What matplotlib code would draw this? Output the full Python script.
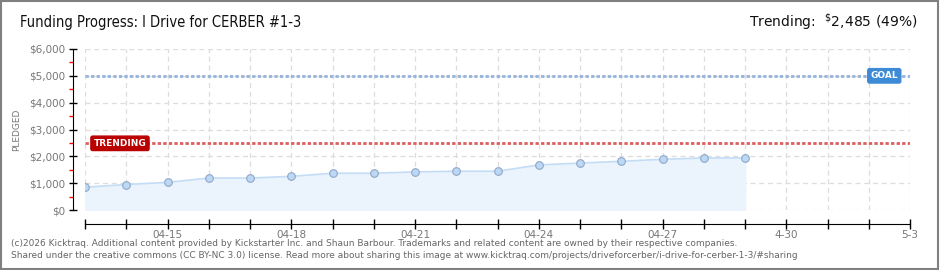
import matplotlib
matplotlib.use("Agg")
import matplotlib.pyplot as plt
from matplotlib.patches import Rectangle
import datetime as dt

dates = ["2026-04-13", "2026-04-14", "2026-04-15", "2026-04-16", "2026-04-17",
         "2026-04-18", "2026-04-19", "2026-04-20", "2026-04-21", "2026-04-22",
         "2026-04-23", "2026-04-24", "2026-04-25", "2026-04-26", "2026-04-27",
         "2026-04-28", "2026-04-29"]
pledged = [850, 950, 1030, 1190, 1190, 1255, 1370, 1370, 1420, 1445, 1445,
           1680, 1750, 1815, 1890, 1940, 1940]
goal = 5000
trending = 2485
start_date = "2026-04-13"
end_date = "2026-05-03"
xtick_labels = {"2026-04-15": "04-15", "2026-04-18": "04-18", "2026-04-21": "04-21",
                "2026-04-24": "04-24", "2026-04-27": "04-27", "2026-04-30": "4-30",
                "2026-05-03": "5-3"}
yticks = [0, 1000, 2000, 3000, 4000, 5000, 6000]
title = "Funding Progress: I Drive for CERBER #1-3"
trend_label = "Trending:  "
trend_value = "2,485 (49%)"
footer1 = "(c)2026 Kicktraq. Additional content provided by Kickstarter Inc. and Shaun Barbour. Trademarks and related content are owned by their respective companies."
footer2 = "Shared under the creative commons (CC BY-NC 3.0) license. Read more about sharing this image at www.kicktraq.com/projects/driveforcerber/i-drive-for-cerber-1-3/#sharing"

def d(s):
    return dt.datetime.strptime(s, "%Y-%m-%d")

x = [d(s) for s in dates]
x0, x1 = d(start_date), d(end_date)

fig = plt.figure(figsize=(9.4, 2.7), dpi=100)
fig.patch.set_facecolor("white")
fig.add_artist(Rectangle((0.001, 0.002), 0.997, 0.995, transform=fig.transFigure,
                         fill=False, edgecolor="#808080", linewidth=1.5))

ax = fig.add_axes([85/940, 1-210/270, 825/940, 161/270])
ax.set_xlim(x0, x1)
ax.set_ylim(0, 6000)

days = [x0 + dt.timedelta(days=i) for i in range((x1 - x0).days + 1)]
for dd in days:
    ax.axvline(dd, color="#dddddd", linestyle=(0, (4, 3)), linewidth=0.9, zorder=0)
for yv in yticks:
    ax.axhline(yv, color="#dddddd", linestyle=(0, (4, 3)), linewidth=0.9, zorder=0)

ax.fill_between(x, pledged, 0, color="#ebf3fc", zorder=1)
ax.plot(x, pledged, color="#c4ddf6", linewidth=1.2, zorder=2)
ax.plot(x, pledged, linestyle="none", marker="o", markersize=5.5,
        markerfacecolor="#bcd8f5", markeredgecolor="#8ea8c6", markeredgewidth=0.8, zorder=3)

ax.axhline(goal, color="#95b4dc", linestyle=(0, (1.2, 0.8)), linewidth=2.0, zorder=2)
ax.axhline(trending, color="#dc5f5f", linestyle=(0, (1.2, 0.8)), linewidth=2.0, zorder=2)

ax.text(d("2026-04-13") + dt.timedelta(hours=5), trending, "TRENDING", color="white",
        fontsize=6.5, fontweight="bold", va="center", ha="left", zorder=5,
        bbox=dict(boxstyle="round,pad=0.3,rounding_size=0.2", facecolor="#bb0000", edgecolor="#bb0000"))
ax.text(d("2026-05-02") + dt.timedelta(hours=1), goal, "GOAL", color="white",
        fontsize=6.5, fontweight="bold", va="center", ha="left", zorder=5,
        bbox=dict(boxstyle="round,pad=0.3,rounding_size=0.2", facecolor="#3d8ad6", edgecolor="#3d8ad6"))

for s in ["top", "right"]:
    ax.spines[s].set_visible(False)
ax.spines["left"].set_position(("outward", 9))
ax.spines["bottom"].set_position(("outward", 10))

ax.set_yticks(yticks)
ax.set_yticklabels(["$" + format(v, ",") for v in yticks], color="#777777", fontsize=7.5)
ax.set_yticks([500, 1500, 2500, 3500, 4500, 5500], minor=True)
ax.tick_params(axis="y", which="major", length=6, width=1, color="black", direction="inout", pad=2)
ax.tick_params(axis="y", which="minor", length=3, width=1, color="red", direction="out")

ax.set_xticks(days)
ax.set_xticklabels([xtick_labels.get(dd.strftime("%Y-%m-%d"), "") for dd in days],
                   color="#777777", fontsize=7.5)
ax.tick_params(axis="x", which="major", length=7, width=1, color="black", direction="inout", pad=1)

ax.set_ylabel("PLEDGED", color="#777777", fontsize=6.5, labelpad=6)

fig.text(20/940, 1-22/270, title, fontsize=10.5, color="#111111", va="center", ha="left",
         fontstretch="condensed")
fig.text(918/940, 1-22/270, trend_label + "$^{\\$}$" + trend_value, fontsize=10, color="#111111",
         va="center", ha="right")

fig.text(11/940, 1-243/270, footer1, fontsize=6.5, color="#666666", va="center", ha="left")
fig.text(11/940, 1-256/270, footer2, fontsize=6.5, color="#666666", va="center", ha="left")

fig.savefig("out.png", dpi=100)
